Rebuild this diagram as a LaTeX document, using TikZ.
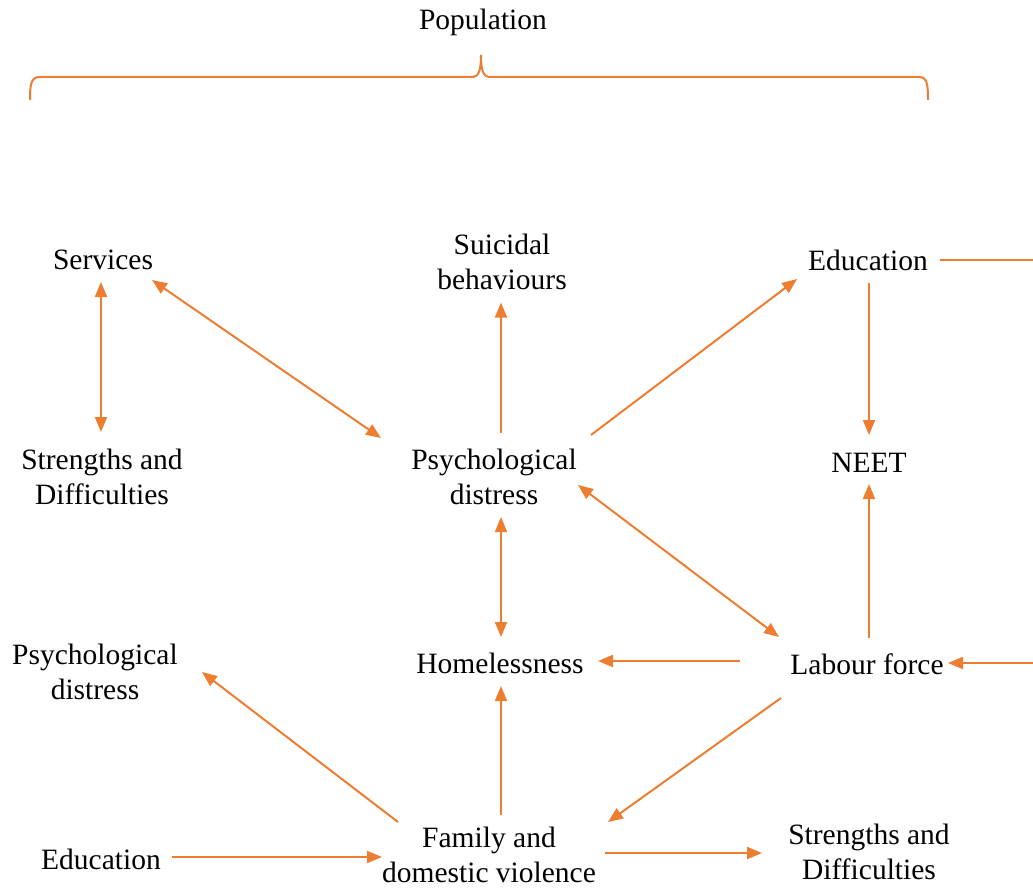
\documentclass[tikz,border=0pt]{standalone}
\usepackage{fontspec}
\setmainfont{Liberation Serif}
\newfontfamily\labelface{Liberation Serif}
\usetikzlibrary{arrows.meta,calc}
\definecolor{accent}{HTML}{ED7D31}
\begin{document}
\begin{tikzpicture}[x=1pt,y=-1pt,
  txt/.style={inner sep=0pt, align=center, font=\labelface\fontsize{29.5}{35}\selectfont},
  link/.style={draw=accent, line width=2pt, -{Triangle[length=15pt,width=12pt]}},
  twoway/.style={draw=accent, line width=2pt, {Triangle[length=15pt,width=12pt]}-{Triangle[length=15pt,width=12pt]}},
]
\useasboundingbox (0,0) rectangle (1033,888);
\clip (0,0) rectangle (1033,888);

% labels
\node[txt] (pop)  at (483,22)    {Population};
\node[txt] (serv) at (103,260)   {Services};
\node[txt] (sui)  at (502,261.5) {Suicidal\\behaviours};
\node[txt] (eduT) at (868,260)   {Education};
\node[txt] (sdL)  at (102,477)   {Strengths and\\Difficulties};
\node[txt] (psy)  at (494,477)   {Psychological\\distress};
\node[txt] (neet) at (869,463)   {NEET};
\node[txt] (psyL) at (95,672)    {Psychological\\distress};
\node[txt] (home) at (500,663)   {Homelessness};
\node[txt] (lab)  at (867,664)   {Labour force};
\node[txt] (eduB) at (101,859)   {Education};
\node[txt] (fam)  at (489,855)   {Family and\\domestic violence};
\node[txt] (sdR)  at (869,852)   {Strengths and\\Difficulties};

% brace under the population heading
\draw[accent, line width=2pt] (30,100) .. controls (30,84) and (31,77) .. (40,77)
  -- (472,77) .. controls (479,77) and (481,70) .. (481,55)
  .. controls (481,70) and (483,77) .. (490,77)
  -- (919,77) .. controls (927,77) and (928,84) .. (928,100);

% connectors
\draw[twoway] ($(serv)+(-2,22)$) -- ($(sdL)+(-1,-45)$);
\draw[twoway] ($(serv)+(49,20)$) -- ($(psy)+(-113,-39)$);
\draw[link]   ($(psy)+(7,-44)$)  -- ($(sui)+(-1,41)$);
\draw[link]   ($(psy)+(97,-42)$) -- ($(eduT)+(-71,19)$);
\draw[link]   ($(eduT)+(1,23)$)  -- ($(neet)+(0,-28)$);
\draw[twoway] ($(psy)+(84,8)$)   -- ($(lab)+(-88,-27)$);
\draw[twoway] ($(psy)+(7,40)$)   -- ($(home)+(1,-26)$);
\draw[link]   ($(lab)+(2,-26)$)  -- ($(neet)+(0,21)$);
\draw[link]   ($(lab)+(-127,-3)$) -- ($(home)+(98,-2)$);
\draw[link]   ($(fam)+(-91,-33)$) -- ($(psyL)+(107,0)$);
\draw[link]   ($(fam)+(12,-40)$) -- ($(home)+(1,23)$);
\draw[link]   ($(lab)+(-86,34)$) -- ($(fam)+(119,-33)$);
\draw[link]   ($(eduB)+(71,-2)$) -- ($(fam)+(-107,2)$);
\draw[link]   ($(fam)+(116,-2)$) -- ($(sdR)+(-107,1)$);

% loop from Education back into Labour force, running past the right edge
\coordinate (rim) at (1050,460);
\draw[link] ($(eduT)+(72,0)$) -| (rim) |- ($(lab)+(81,-1)$);
\end{tikzpicture}
\end{document}
